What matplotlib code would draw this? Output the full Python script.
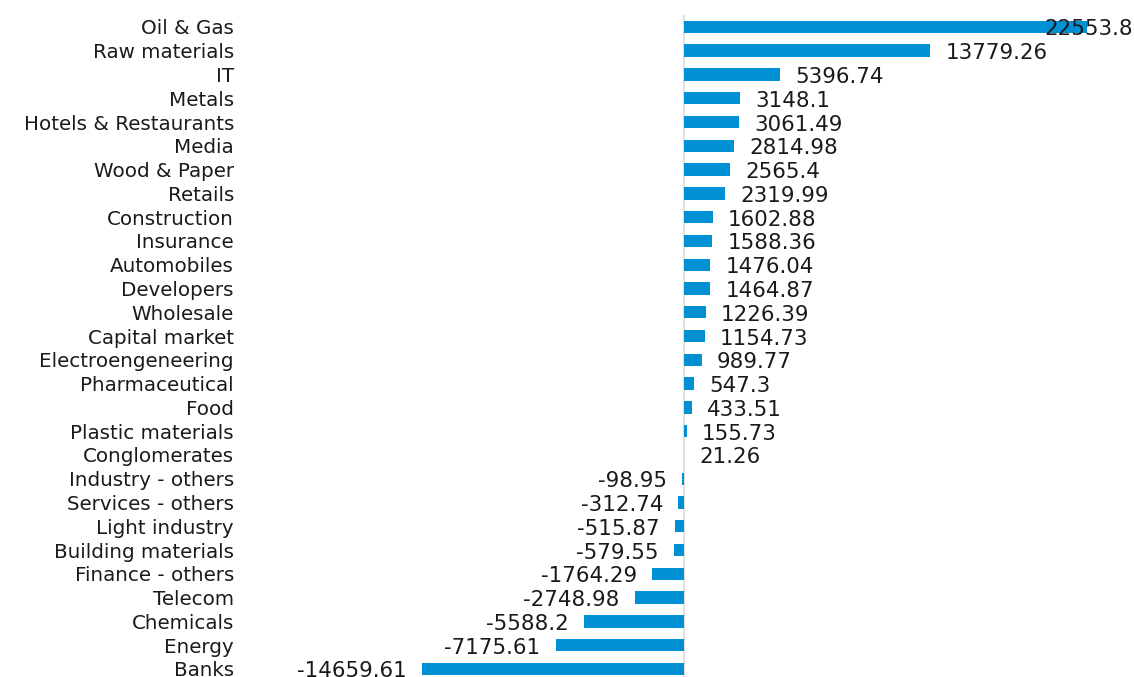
import matplotlib
matplotlib.use("Agg")
import matplotlib.pyplot as plt

plt.rcParams["font.family"] = ["DejaVu Sans"]

categories = ["Oil & Gas", "Raw materials", "IT", "Metals", "Hotels & Restaurants", "Media",
              "Wood & Paper", "Retails", "Construction", "Insurance", "Automobiles", "Developers",
              "Wholesale", "Capital market", "Electroengeneering", "Pharmaceutical", "Food",
              "Plastic materials", "Conglomerates", "Industry - others", "Services - others",
              "Light industry", "Building materials", "Finance - others", "Telecom", "Chemicals",
              "Energy", "Banks"]
values = [22553.8, 13779.26, 5396.74, 3148.1, 3061.49, 2814.98, 2565.4, 2319.99, 1602.88,
          1588.36, 1476.04, 1464.87, 1226.39, 1154.73, 989.77, 547.3, 433.51, 155.73, 21.26,
          -98.95, -312.74, -515.87, -579.55, -1764.29, -2748.98, -5588.2, -7175.61, -14659.61]
value_labels = ["22553.8", "13779.26", "5396.74", "3148.1", "3061.49", "2814.98", "2565.4",
                "2319.99", "1602.88", "1588.36", "1476.04", "1464.87", "1226.39", "1154.73",
                "989.77", "547.3", "433.51", "155.73", "21.26", "-98.95", "-312.74", "-515.87",
                "-579.55", "-1764.29", "-2748.98", "-5588.2", "-7175.61", "-14659.61"]

W, H = 1134, 677
fig = plt.figure(figsize=(W / 100, H / 100), dpi=100)
ax_left, ax_right = 245, 1134
ax_top = 15
n = len(categories)
row = 23.78
ax_h = n * row
ax_bottom = ax_top + ax_h
ax = fig.add_axes([ax_left / W, 1 - ax_bottom / H, (ax_right - ax_left) / W, ax_h / H])

zero_px = 684
scale = 0.01786  # px per unit
xmin = (ax_left - zero_px) / scale
xmax = (ax_right - zero_px) / scale
ax.set_xlim(xmin, xmax)
ax.set_ylim(n - 0.5, -0.5)

ypos = list(range(n))
ax.barh(ypos, values, height=0.52, color="#0091d5", zorder=2)
ax.axvline(0, color="#d9d9d9", lw=1.2, zorder=1)

FS_CAT = 14.3
FS_VAL = 15.4
TC = "#1a1a1a"
for s in ax.spines.values():
    s.set_visible(False)
ax.set_xticks([])
ax.set_yticks(ypos)
ax.set_yticklabels(categories, fontsize=FS_CAT, color=TC)
ax.tick_params(axis="y", length=0, pad=8)

fig.canvas.draw()
renderer = fig.canvas.get_renderer()
dy = -1.8
for y, v, lab in zip(ypos, values, value_labels):
    if v >= 0:
        t = ax.annotate(lab, (v, y), xytext=(11, dy), textcoords="offset points",
                        ha="left", va="center", fontsize=FS_VAL, color=TC, zorder=3)
        bb = t.get_window_extent(renderer)
        if bb.x1 > W - 1:
            t.remove()
            ax.annotate(lab, (1.0, y), xycoords=("axes fraction", "data"),
                        xytext=(-1, dy), textcoords="offset points",
                        ha="right", va="center", fontsize=FS_VAL, color=TC, zorder=3)
    else:
        ax.annotate(lab, (v, y), xytext=(-11, dy), textcoords="offset points",
                    ha="right", va="center", fontsize=FS_VAL, color=TC, zorder=3)

fig.savefig("out.png", dpi=100)
